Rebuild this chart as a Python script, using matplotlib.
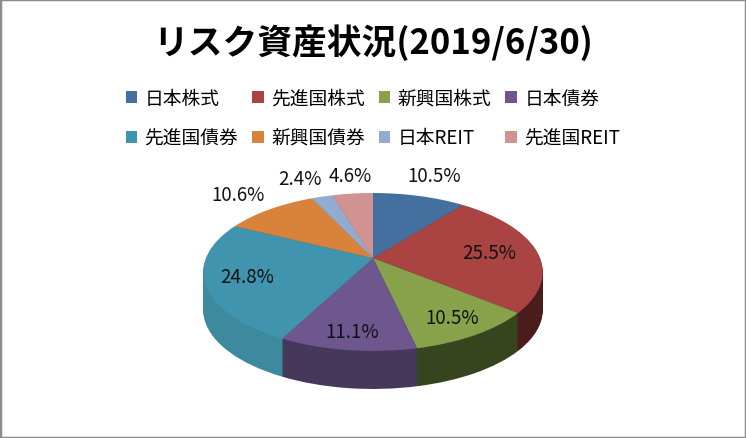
import numpy as np
import matplotlib.pyplot as plt
from matplotlib.patches import Rectangle
from matplotlib.transforms import Transform, Affine2D

plt.rcParams['font.family'] = ['Noto Sans CJK JP', 'DejaVu Sans']

# data
labels = ['日本株式', '先進国株式', '新興国株式', '日本債券',
          '先進国債券', '新興国債券', '日本REIT', '先進国REIT']
shares = [10.5, 25.5, 10.5, 11.1, 24.8, 10.6, 2.4, 4.6]
pct_text = ['10.5%', '25.5%', '10.5%', '11.1%', '24.8%', '10.6%', '2.4%', '4.6%']

top_colors = ['#44709F', '#A94442', '#87A24B', '#6E568F',
              '#4094AD', '#D9823B', '#93ABCF', '#D09391']
side_colors = ['#2E4B6B', '#4A1C1C', '#37451E', '#45385A',
               '#3D8A9E', '#8A5224', '#60708A', '#8A5E5C']
# label distance from centre (in radii) and small angle nudge (deg)
label_r = [1.40, 0.71, 0.80, 0.83, 0.76, 1.36, 1.38, 1.35]
label_dang = [0, 0, 0, 0, 0, 0, 2, -1]


class Perspective(Transform):
    """simple projective tilt: the near (lower) half looks bigger"""
    input_dims = output_dims = 2
    is_separable = False
    has_inverse = False

    def __init__(self, k):
        super().__init__()
        self.k = k

    def transform_non_affine(self, values):
        v = np.asarray(values, dtype=float)
        d = 1 + self.k * v[:, 1]
        return np.column_stack([v[:, 0] / d, v[:, 1] / d])


W, H = 746, 439
fig = plt.figure(figsize=(W / 100, H / 100), dpi=100)
ax = fig.add_axes([0, 0, 1, 1])

# pixel scale of one radius and pie centre (from top-left)
sx, sy = 167, 76.5
cx, cy = 373, 259
k = 0.177
persp = Perspective(k)

depth = 38 / sy  # side thickness in data units
n_layers = 45
for j in range(n_layers):
    off = -depth + depth * j / n_layers
    ws, _ = ax.pie(shares, colors=side_colors, startangle=90, counterclock=False,
                   radius=1, wedgeprops=dict(linewidth=0))
    for w in ws:
        w.set_transform(persp + Affine2D().translate(0, off) + ax.transData)
wedges, _ = ax.pie(shares, colors=top_colors, startangle=90, counterclock=False,
                   radius=1, wedgeprops=dict(linewidth=0))
for w in wedges:
    w.set_transform(persp + ax.transData)

ax.set_aspect('auto')
ax.set_xlim(-cx / sx, (W - cx) / sx)
ax.set_ylim(-(H - cy) / sy, cy / sy)
ax.axis('off')

# percentage labels
cum = np.cumsum([0] + shares[:-1])
for i, v in enumerate(shares):
    ang = np.deg2rad(90 - (cum[i] + v / 2) * 3.6 + label_dang[i])
    r = label_r[i]
    p = persp.transform(np.array([[r * np.cos(ang), r * np.sin(ang)]]))[0]
    ax.text(p[0], p[1], pct_text[i], ha='center', va='center',
            fontsize=13.5, color='#111111', clip_on=False)

# title
fig.text(0.5, 1 - 43 / H, 'リスク資産状況(2019/6/30)', ha='center', va='center',
         fontsize=25, fontweight='bold')

# legend, row-major order like the original
order = [0, 4, 1, 5, 2, 6, 3, 7]
fig.legend([wedges[i] for i in order], [labels[i] for i in order],
           ncol=4, loc='center', bbox_to_anchor=(0.5, 1 - 119 / H),
           frameon=False, fontsize=13.5, handlelength=0.6, handleheight=0.6,
           handletextpad=0.4, columnspacing=0.75, labelspacing=1.0)

# outer frame
fig.patches.append(Rectangle((0, 0), 1, 1, transform=fig.transFigure,
                             fill=False, edgecolor='#8C8C8C', linewidth=2.5))

fig.savefig('out.png', dpi=100)
